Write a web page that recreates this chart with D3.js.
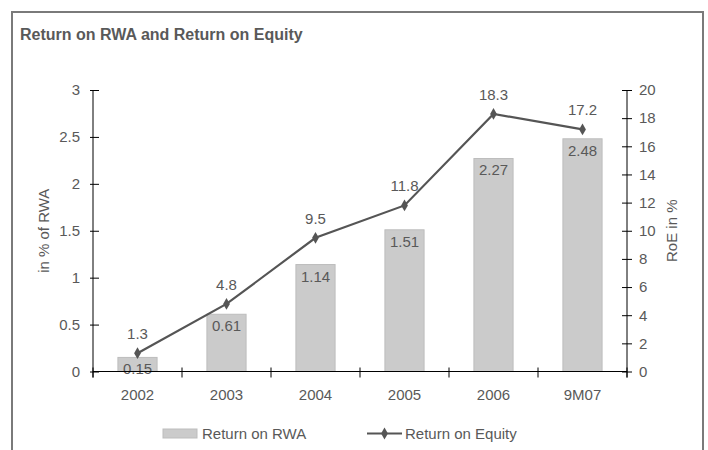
<!DOCTYPE html>
<html>
<head>
<meta charset="utf-8">
<script src="https://cdn.jsdelivr.net/npm/d3@7"></script>
<style>
  body { margin: 0; background: #fff; }
  svg text { font-family: "Liberation Sans", Arial, sans-serif; fill: #595959; }
</style>
</head>
<body>
<svg width="708" height="450"></svg>
<script>
// data
const years = ["2002", "2003", "2004", "2005", "2006", "9M07"];
const rwa = [0.15, 0.61, 1.14, 1.51, 2.27, 2.48];
const roe = [1.3, 4.8, 9.5, 11.8, 18.3, 17.2];
const leftTicks = [0, 0.5, 1, 1.5, 2, 2.5, 3];
const rightTicks = [0, 2, 4, 6, 8, 10, 12, 14, 16, 18, 20];

const svg = d3.select("svg");
const fs = "15px";

// outer frame
svg.append("path")
  .attr("d", "M12,452 V12 H703 V452")
  .attr("fill", "none")
  .attr("stroke", "#7a7a7a")
  .attr("stroke-width", 2);

svg.append("text")
  .attr("x", 20).attr("y", 40)
  .style("font-size", "16px")
  .style("font-weight", "bold")
  .text("Return on RWA and Return on Equity");

const pLeft = 93, pRight = 627, pTop = 90, pBottom = 371.5;

const x = d3.scaleBand().domain(years).range([pLeft, pRight]).paddingInner(0.56).paddingOuter(0.28);
const y = d3.scaleLinear().domain([0, 3]).range([pBottom, pTop]);
const y2 = d3.scaleLinear().domain([0, 20]).range([pBottom, pTop]);

// bars
svg.selectAll(".bar").data(rwa).join("rect")
  .attr("class", "bar")
  .attr("x", (d, i) => x(years[i]))
  .attr("y", d => y(d))
  .attr("width", x.bandwidth())
  .attr("height", d => pBottom - y(d))
  .attr("fill", "#cbcbcb")
  .attr("stroke", "#bdbdbd")
  .attr("stroke-width", 1);

svg.selectAll(".barlab").data(rwa).join("text")
  .attr("x", (d, i) => x(years[i]) + x.bandwidth() / 2)
  .attr("y", d => y(d) + 17)
  .attr("text-anchor", "middle")
  .style("font-size", fs)
  .text(d => d.toFixed(2));

// axes
const yAxis = svg.append("g").attr("transform", `translate(${pLeft},0)`)
  .call(d3.axisLeft(y).tickValues(leftTicks).tickSize(3).tickPadding(10).tickFormat(d3.format("")));
yAxis.selectAll(".tick line").attr("x2", -3).attr("x1", 6);

const y2Axis = svg.append("g").attr("transform", `translate(${pRight},0)`)
  .call(d3.axisRight(y2).tickValues(rightTicks).tickSize(5).tickPadding(7));
y2Axis.selectAll(".tick line").attr("x1", -5);

const bounds = d3.range(years.length + 1).map(i => pLeft + i * (pRight - pLeft) / years.length);
const xAxis = svg.append("g");
xAxis.append("line").attr("x1", pLeft).attr("x2", pRight).attr("y1", pBottom).attr("y2", pBottom).attr("stroke", "#000");
xAxis.selectAll(".xt").data(bounds).join("line")
  .attr("x1", d => d).attr("x2", d => d)
  .attr("y1", pBottom - 4).attr("y2", pBottom + 6)
  .attr("stroke", "#000");
xAxis.selectAll(".xl").data(years).join("text")
  .attr("x", d => x(d) + x.bandwidth() / 2)
  .attr("y", 400)
  .attr("text-anchor", "middle")
  .style("font-size", fs)
  .text(d => d);

[yAxis, y2Axis].forEach(g => {
  g.select(".domain").attr("stroke", "#000").attr("d", `M0,${pTop}V${pBottom + 6}`);
  g.selectAll(".tick line").attr("stroke", "#000");
  g.selectAll(".tick text").style("font-size", fs).attr("fill", "#595959");
});

// axis titles
svg.append("text")
  .attr("transform", `translate(49,${(pTop + pBottom) / 2}) rotate(-90)`)
  .attr("text-anchor", "middle")
  .style("font-size", fs)
  .text("in % of RWA");
svg.append("text")
  .attr("transform", `translate(677,${(pTop + pBottom) / 2}) rotate(-90)`)
  .attr("text-anchor", "middle")
  .style("font-size", fs)
  .text("RoE in %");

// RoE line
const cx = (d, i) => x(years[i]) + x.bandwidth() / 2;
svg.append("path")
  .datum(roe)
  .attr("d", d3.line().x(cx).y(d => y2(d)))
  .attr("fill", "none")
  .attr("stroke", "#555")
  .attr("stroke-width", 2.2);

const diamond = d3.symbol().type(d3.symbolDiamond).size(40);
svg.selectAll(".pt").data(roe).join("path")
  .attr("transform", (d, i) => `translate(${cx(d, i)},${y2(d)})`)
  .attr("d", diamond)
  .attr("fill", "#555");

svg.selectAll(".ptlab").data(roe).join("text")
  .attr("x", cx)
  .attr("y", d => y2(d) - 14)
  .attr("text-anchor", "middle")
  .style("font-size", fs)
  .text(d => d.toFixed(1));

// legend
const lg = svg.append("g");
lg.append("rect").attr("x", 163).attr("y", 429).attr("width", 34).attr("height", 9)
  .attr("fill", "#cbcbcb").attr("stroke", "#bdbdbd");
lg.append("text").attr("x", 202).attr("y", 438.5).style("font-size", fs).text("Return on RWA");
lg.append("line").attr("x1", 367).attr("x2", 402).attr("y1", 433.5).attr("y2", 433.5)
  .attr("stroke", "#555").attr("stroke-width", 2.2);
lg.append("path").attr("transform", "translate(384.5,433.5)").attr("d", diamond).attr("fill", "#555");
lg.append("text").attr("x", 405).attr("y", 438.5).style("font-size", fs).text("Return on Equity");
</script>
</body>
</html>
